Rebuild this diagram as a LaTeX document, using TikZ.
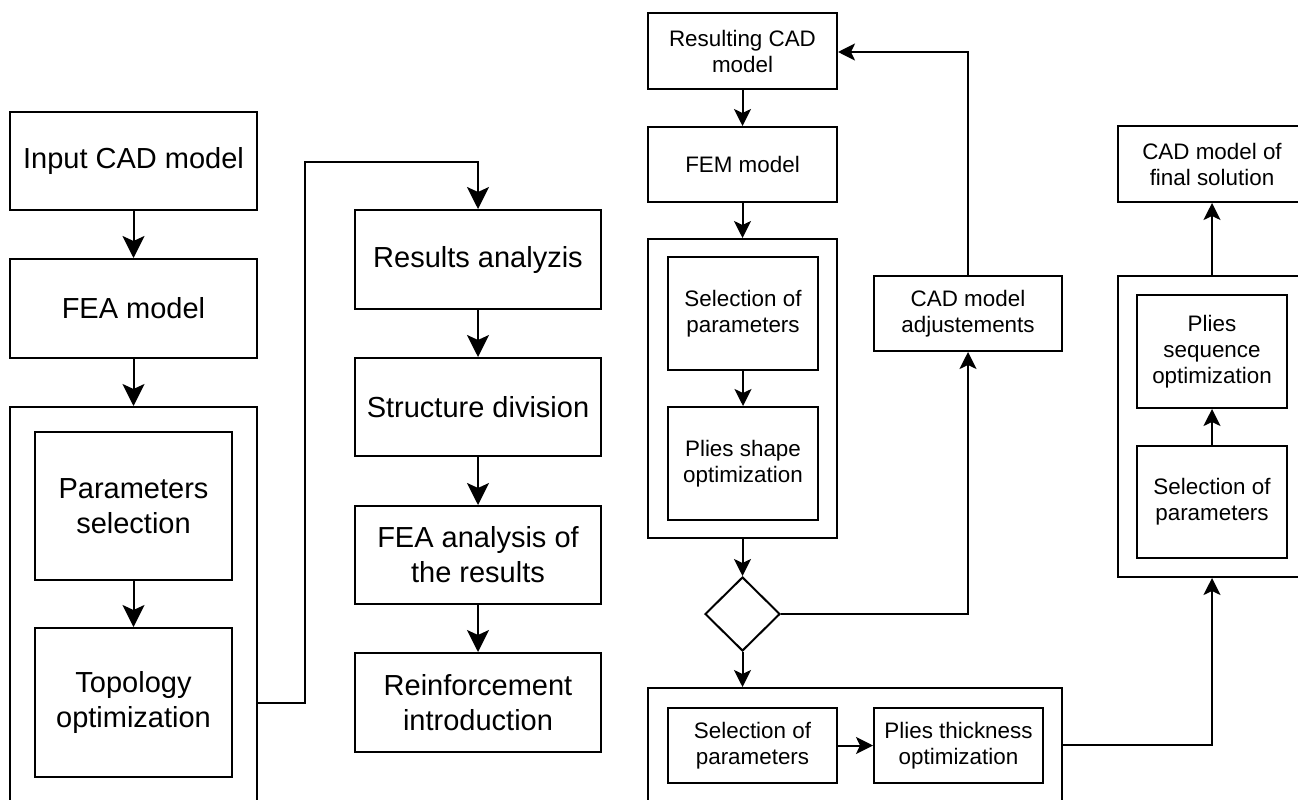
\documentclass[tikz,border=0pt]{standalone}
\usepackage{fontspec}
\setmainfont{Liberation Sans}
\usetikzlibrary{arrows.meta,shapes.geometric}
\tikzset{
  box/.style={draw, line width=2pt, rectangle, inner sep=0pt, align=center},
  bigtxt/.style={font=\fontsize{29}{35}\selectfont},
  smalltxt/.style={font=\fontsize{22.4}{26}\selectfont},
  bigarrow/.style={line width=2pt, -{Stealth[length=22pt,width=22pt,inset=5pt]}},
  smallarrow/.style={line width=2pt, -{Stealth[length=17pt,width=17pt,inset=4pt]}},
  decision/.style={draw, line width=2pt, diamond, inner sep=0pt, minimum width=75pt, minimum height=74pt}
}
\begin{document}
\begin{tikzpicture}[x=1pt,y=-1pt]
\useasboundingbox (0,0) rectangle (1298,800);

% ---- Topology optimization stage ----
\node[box,bigtxt,minimum width=247pt,minimum height=98pt] (incad) at (133.5,161) {Input CAD model};
\node[box,bigtxt,minimum width=247pt,minimum height=99pt] (feam) at (133.5,308.5) {FEA model};
\node[box,minimum width=247pt,minimum height=430pt] (topgroup) at (133.5,622) {};
\node[box,bigtxt,minimum width=197pt,minimum height=148pt] (parsel) at (133.5,506) {Parameters\\selection};
\node[box,bigtxt,minimum width=197pt,minimum height=149pt] (topo) at (133.5,702.5) {Topology\\optimization};

\draw[bigarrow] (incad) -- (feam);
\draw[bigarrow] (feam) -- (topgroup);
\draw[bigarrow] (parsel) -- (topo);

% ---- Reinforcement stage ----
\node[box,bigtxt,minimum width=246pt,minimum height=99pt] (resan) at (478,259.5) {Results analyzis};
\node[box,bigtxt,minimum width=246pt,minimum height=98pt] (strdiv) at (478,407) {Structure division};
\node[box,bigtxt,minimum width=246pt,minimum height=98pt] (feaan) at (478,555) {FEA analysis of\\the results};
\node[box,bigtxt,minimum width=246pt,minimum height=99pt] (reinf) at (478,702.5) {Reinforcement\\introduction};

\coordinate (jA) at (305,703);
\coordinate (jB) at (305,162);
\draw[bigarrow] (topgroup.east |- jA) -- (jA) -- (jB) -- (jB -| resan.north) -- (resan.north);
\draw[bigarrow] (resan) -- (strdiv);
\draw[bigarrow] (strdiv) -- (feaan);
\draw[bigarrow] (feaan) -- (reinf);

% ---- Composite ply shape optimization loop ----
\node[box,smalltxt,minimum width=189pt,minimum height=76pt] (rescad) at (742.5,51) {Resulting CAD\\model};
\node[box,smalltxt,minimum width=189pt,minimum height=75pt] (fem) at (742.5,164.5) {FEM model};
\node[box,minimum width=189pt,minimum height=299pt] (shapegroup) at (742.5,388.5) {};
\node[box,smalltxt,minimum width=150pt,minimum height=113pt] (sel1) at (743,313.5) {Selection of\\parameters};
\node[box,smalltxt,minimum width=150pt,minimum height=113pt] (shape) at (743,463.5) {Plies shape\\optimization};
\node[decision] (dec) at (742.5,614) {};
\node[box,smalltxt,minimum width=188pt,minimum height=75pt] (adj) at (968,313.5) {CAD model\\adjustements};

\draw[smallarrow] (rescad) -- (fem);
\draw[smallarrow] (fem) -- (shapegroup);
\draw[smallarrow] (sel1) -- (shape);
\draw[smallarrow] (shapegroup) -- (dec);
\draw[smallarrow] (dec.east) -- (dec.east -| adj.south) -- (adj.south);
\coordinate (jC) at (968,52);
\draw[smallarrow] (adj.north) -- (jC) -- (rescad.east |- jC);

% ---- Thickness and sequence optimization ----
\node[box,minimum width=414pt,minimum height=140pt] (thgroup) at (855,758) {};
\node[box,smalltxt,minimum width=169pt,minimum height=75pt] (sel2) at (752.5,745.5) {Selection of\\parameters};
\node[box,smalltxt,minimum width=169pt,minimum height=75pt] (thick) at (958.5,745.5) {Plies thickness\\optimization};
\draw[smallarrow] (dec.south) -- (dec.south |- thgroup.north);
\draw[smallarrow] (sel2) -- (thick);

\node[box,minimum width=188pt,minimum height=301pt] (seqgroup) at (1212,426.5) {};
\node[box,smalltxt,minimum width=150pt,minimum height=113pt] (seq) at (1212,351.5) {Plies\\sequence\\optimization};
\node[box,smalltxt,minimum width=150pt,minimum height=112pt] (sel3) at (1212,502) {Selection of\\parameters};
\node[box,smalltxt,minimum width=188pt,minimum height=76pt] (final) at (1212,164) {CAD model of\\final solution};

\coordinate (jD) at (1212,745);
\draw[smallarrow] (thgroup.east |- jD) -- (jD) -- (seqgroup.south);
\draw[smallarrow] (sel3) -- (seq);
\draw[smallarrow] (seqgroup) -- (final);
\end{tikzpicture}
\end{document}
